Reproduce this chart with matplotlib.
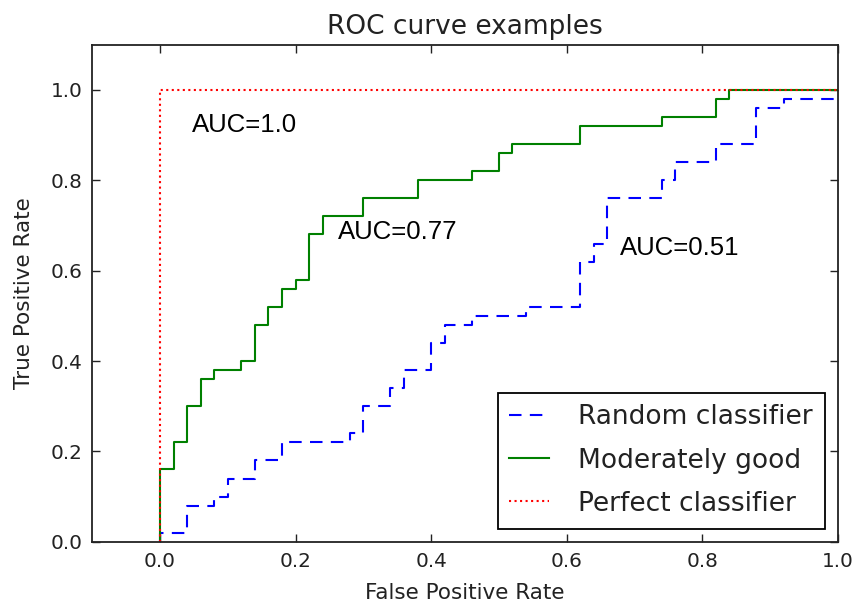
import numpy as np
import matplotlib
matplotlib.use("Agg")
import matplotlib.pyplot as plt

# ROC curve corner points
random_fpr = [0.0, 0.0, 0.04, 0.04, 0.08, 0.08, 0.10, 0.10, 0.14, 0.14, 0.18, 0.18,
              0.28, 0.28, 0.30, 0.30, 0.34, 0.34, 0.36, 0.36, 0.40, 0.40, 0.42, 0.42,
              0.46, 0.46, 0.54, 0.54, 0.62, 0.62, 0.64, 0.64, 0.66, 0.66, 0.74, 0.74,
              0.76, 0.76, 0.82, 0.82, 0.88, 0.88, 0.92, 0.92, 1.0]
random_tpr = [0.0, 0.02, 0.02, 0.08, 0.08, 0.10, 0.10, 0.14, 0.14, 0.18, 0.18, 0.22,
              0.22, 0.24, 0.24, 0.30, 0.30, 0.34, 0.34, 0.38, 0.38, 0.44, 0.44, 0.48,
              0.48, 0.50, 0.50, 0.52, 0.52, 0.62, 0.62, 0.66, 0.66, 0.76, 0.76, 0.80,
              0.80, 0.84, 0.84, 0.88, 0.88, 0.96, 0.96, 0.98, 0.98]

good_fpr = [0.0, 0.0, 0.02, 0.02, 0.04, 0.04, 0.06, 0.06, 0.08, 0.08, 0.12, 0.12,
            0.14, 0.14, 0.16, 0.16, 0.18, 0.18, 0.20, 0.20, 0.22, 0.22, 0.24, 0.24,
            0.30, 0.30, 0.38, 0.38, 0.46, 0.46, 0.50, 0.50, 0.52, 0.52, 0.62, 0.62,
            0.74, 0.74, 0.82, 0.82, 0.84, 0.84, 1.0]
good_tpr = [0.0, 0.16, 0.16, 0.22, 0.22, 0.30, 0.30, 0.36, 0.36, 0.38, 0.38, 0.40,
            0.40, 0.48, 0.48, 0.52, 0.52, 0.56, 0.56, 0.58, 0.58, 0.68, 0.68, 0.72,
            0.72, 0.76, 0.76, 0.80, 0.80, 0.82, 0.82, 0.86, 0.86, 0.88, 0.88, 0.92,
            0.92, 0.94, 0.94, 0.98, 0.98, 1.0, 1.0]

perfect_fpr = [0.0, 0.0, 1.0]
perfect_tpr = [0.0, 1.0, 1.0]

labels = ["Random classifier", "Moderately good", "Perfect classifier"]
auc_texts = ["AUC=1.0", "AUC=0.77", "AUC=0.51"]
auc_pos = [(0.047, 0.922), (0.263, 0.685), (0.679, 0.650)]

plt.rcParams["font.family"] = "DejaVu Sans"

fig = plt.figure(figsize=(8.54, 6.04), dpi=100)
ax = fig.add_axes([0.108, 0.103, 0.873, 0.823])

lw = 1.5
ax.plot(random_fpr, random_tpr, color="#0000ff", linestyle="--", dashes=(6, 4),
        linewidth=lw, label=labels[0])
ax.plot(good_fpr, good_tpr, color="#008000", linestyle="-", linewidth=lw,
        label=labels[1])
ax.plot(perfect_fpr, perfect_tpr, color="#ff0000", linestyle=":", linewidth=lw,
        label=labels[2])

for txt, (x, y) in zip(auc_texts, auc_pos):
    ax.text(x, y, txt, fontsize=18.5, family="Liberation Sans", va="center", ha="left")

ax.set_xlim(-0.1, 1.0)
ax.set_ylim(0.0, 1.1)
ax.set_xticks([0.0, 0.2, 0.4, 0.6, 0.8, 1.0])
ax.set_yticks([0.0, 0.2, 0.4, 0.6, 0.8, 1.0])
ax.tick_params(direction="in", top=True, right=True, length=6, width=1,
               labelsize=14.4, pad=7, colors="#222222", labelcolor="#222222")
for sp in ax.spines.values():
    sp.set_linewidth(1.3)
    sp.set_color("#222222")

ax.set_xlabel("False Positive Rate", fontsize=15.5, color="#222222", labelpad=9)
ax.set_ylabel("True Positive Rate", fontsize=15.5, color="#222222", labelpad=12)
ax.set_title("ROC curve examples", fontsize=19, color="#222222", pad=8)

leg = ax.legend(loc="lower right", fontsize=19, handlelength=1.5,
                handletextpad=1.1, borderpad=0.45, labelspacing=0.65,
                fancybox=False, framealpha=1.0, edgecolor="black",
                borderaxespad=0.5)
leg.get_frame().set_linewidth(1.3)
for t in leg.get_texts():
    t.set_color("#222222")

fig.savefig("out.png", dpi=100)
